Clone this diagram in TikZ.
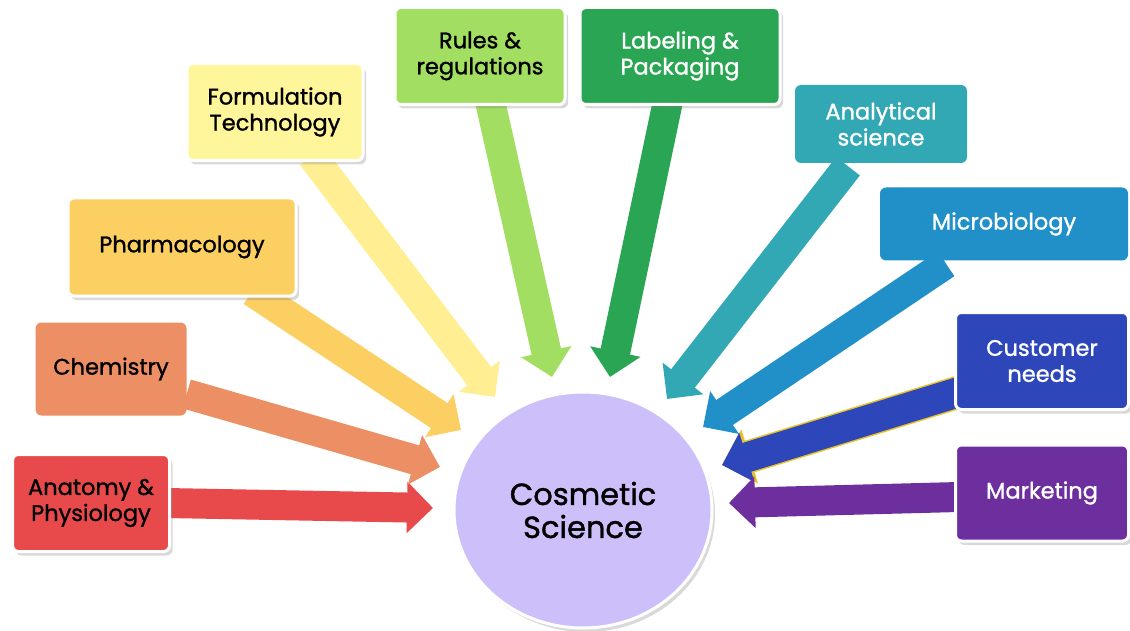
\documentclass[tikz,border=0pt]{standalone}
\usepackage{fontspec}
\setmainfont{Poppins}[FakeBold=1.2]
\usepackage{tikz}
\usetikzlibrary{arrows.meta, shapes.geometric, shadows, backgrounds}
\definecolor{anatred}{HTML}{E84A4B}
\definecolor{chemorange}{HTML}{EC8F64}
\definecolor{pharmyellow}{HTML}{FCCF62}
\definecolor{formyellow}{HTML}{FFF59A}
\definecolor{rulesgreen}{HTML}{A2DE62}
\definecolor{labelgreen}{HTML}{2AA553}
\definecolor{analteal}{HTML}{33A8B5}
\definecolor{microblue}{HTML}{2190C8}
\definecolor{custblue}{HTML}{2D46B9}
\definecolor{markpurple}{HTML}{6E2F9E}
\definecolor{coslilac}{HTML}{CDBFF9}
\definecolor{custgold}{HTML}{E8C22A}
\tikzset{
    topic/.style={rectangle, rounded corners=6pt, align=center, inner sep=0pt,
        font=\fontsize{22.5}{26}\selectfont},
    framedtopic/.style={topic, draw=white, line width=3pt,
        drop shadow={shadow xshift=3pt, shadow yshift=-4pt, opacity=0.3}},
    blockarrow/.style={line width=30pt, -{Triangle[length=26pt, width=50pt]}}
}

\begin{document}
\begin{tikzpicture}[x=1pt, y=-1pt]
    \useasboundingbox (0,0) rectangle (1130,631);

    % centre
    \node[ellipse, fill=coslilac, draw=white, line width=3pt,
        minimum width=258pt, minimum height=236pt,
        drop shadow={shadow xshift=3pt, shadow yshift=-4pt, opacity=0.3},
        align=center, font=\fontsize{30.5}{33}\selectfont] (cos) at (583,510) {Cosmetic\\Science};

    % left side
    \node[framedtopic, fill=anatred, minimum width=157pt, minimum height=97pt] (anat) at (91,503) {Anatomy \&\\Physiology};
    \node[topic, fill=chemorange, minimum width=151pt, minimum height=93pt] (chem) at (111,369) {Chemistry};
    \node[framedtopic, fill=pharmyellow, minimum width=228pt, minimum height=98pt] (pharm) at (182,247) {Pharmacology};
    \node[framedtopic, fill=formyellow, minimum width=176pt, minimum height=97pt] (form) at (275,112) {Formulation\\Technology};

    % top
    \node[framedtopic, fill=rulesgreen, minimum width=170pt, minimum height=97pt] (rules) at (480,56) {Rules \&\\regulations};
    \node[framedtopic, fill=labelgreen, text=white, minimum width=200pt, minimum height=97pt] (label) at (680,56) {Labeling \&\\Packaging};

    % right side
    \node[topic, fill=analteal, text=white, minimum width=172pt, minimum height=78pt] (anal) at (881,124) {Analytical\\science};
    \node[topic, fill=microblue, text=white, minimum width=248pt, minimum height=73pt] (micro) at (1004,224) {Microbiology};
    \node[framedtopic, fill=custblue, text=white, minimum width=173pt, minimum height=97pt] (cust) at (1042,361) {Customer\\needs};
    \node[framedtopic, fill=markpurple, text=white, minimum width=173pt, minimum height=96pt] (mark) at (1042,493) {Marketing};

    % arrow tips
    \coordinate (tipAnat) at (433,508);
    \coordinate (tipChem) at (440,467);
    \coordinate (tipPharm) at (461,430);
    \coordinate (tipForm) at (495,397);
    \coordinate (tipRules) at (552,377);
    \coordinate (tipLabel) at (610,377);
    \coordinate (tipAnal) at (667,399);
    \coordinate (tipMicro) at (703,427);
    \coordinate (tipCust) at (722,465);
    \coordinate (tipMark) at (729,503);

    \begin{scope}[on background layer]
        \draw[blockarrow, anatred] ([xshift=-5pt]anat.east) -- (tipAnat);
        \draw[blockarrow, chemorange] ([yshift=-25pt]chem.east) -- (tipChem);
        \draw[blockarrow, pharmyellow] ([xshift=70pt, yshift=6pt]pharm.south) -- (tipPharm);
        \draw[blockarrow, formyellow!95!orange] ([xshift=37pt, yshift=6pt]form.south) -- (tipForm);
        \draw[blockarrow, rulesgreen] ([xshift=10pt, yshift=5pt]rules.south) -- (tipRules);
        \draw[blockarrow, labelgreen] ([xshift=-12pt, yshift=5pt]label.south) -- (tipLabel);
        \draw[blockarrow, analteal] ([xshift=-33pt, yshift=-3pt]anal.south) -- (tipAnal);
        \draw[blockarrow, microblue] ([xshift=-58pt, yshift=-3pt]micro.south) -- (tipMicro);
        \draw[custgold, line width=33pt, -{Triangle[length=29pt, width=55pt]}] ([xshift=5pt, yshift=-31pt]cust.west) -- (tipCust);
        \draw[blockarrow, custblue] ([xshift=5pt, yshift=-31pt]cust.west) -- (tipCust);
        \draw[blockarrow, markpurple] ([xshift=5pt, yshift=-4pt]mark.west) -- (tipMark);
    \end{scope}
\end{tikzpicture}
\end{document}
